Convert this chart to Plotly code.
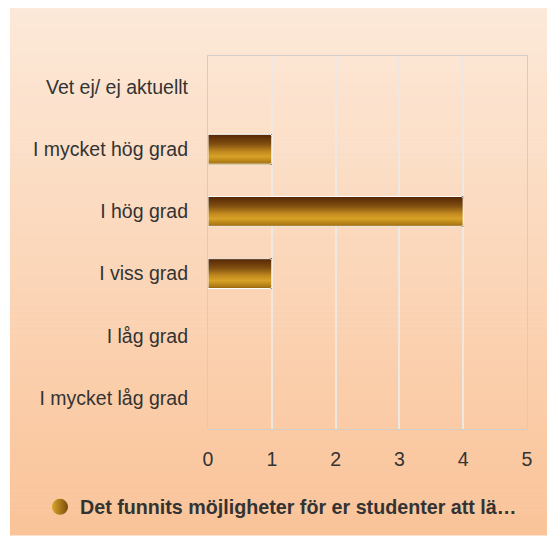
import plotly.graph_objects as go

# ---- data ----
categories = ["I mycket låg grad", "I låg grad", "I viss grad", "I hög grad",
              "I mycket hög grad", "Vet ej/ ej aktuellt"]
values = [0, 0, 1, 4, 1, 0]
series_name = "Det funnits möjligheter för er studenter att lä…"
x_ticks = [0, 1, 2, 3, 4, 5]

W, H = 547, 545
L = 208
T = 56
R = W - 527
B = H - 429
pw, ph = W - L - R, H - T - B

def px2x(p):
    return (p - L) / pw

def px2y(p):
    return (H - B - p) / ph

fig = go.Figure()

# gradient stops for bars from bottom (0) to top (1)
stops = [(0.0, (138, 90, 12)), (0.08, (172, 120, 20)), (0.28, (216, 162, 38)),
         (0.45, (192, 136, 30)), (0.7, (128, 78, 16)), (1.0, (86, 40, 6))]

def col(t):
    for (a, ca), (b, cb) in zip(stops[:-1], stops[1:]):
        if a <= t <= b:
            f = (t - a) / (b - a)
            c = [round(ca[i] + (cb[i] - ca[i]) * f) for i in range(3)]
            return "rgb(%d,%d,%d)" % tuple(c)
    return "rgb(%d,%d,%d)" % stops[-1][1]

bw = 0.48
N = 30
for k in range(N):
    t = (k + 0.5) / N
    fig.add_trace(go.Bar(
        x=values, y=categories, orientation="h",
        width=bw / N * 1.3, offset=-bw / 2 + k * bw / N,
        marker=dict(color=col(t), line=dict(width=0)),
        showlegend=False, hoverinfo="skip"))

# white outline (only on non-empty bars)
fig.add_trace(go.Bar(
    x=values, y=categories, orientation="h", width=bw,
    marker=dict(color="rgba(0,0,0,0)",
                line=dict(color="white", width=[1 if v > 0 else 0 for v in values]),
                cornerradius=2),
    showlegend=False, hoverinfo="skip"))

# legend entry
fig.add_trace(go.Scatter(
    x=[None], y=[None], mode="markers", name=series_name,
    marker=dict(symbol="circle", size=16, color="#d9a62a",
                gradient=dict(type="horizontal", color="#7a4a0c"))))

# background gradient (chart area), drawn as thin horizontal strips
top_c, bot_c = (252, 233, 217), (250, 195, 152)
NS = 106
ytop, ybot = 8, 535
shapes = []
for i in range(NS):
    a = ytop + (ybot - ytop) * i / NS
    b = ytop + (ybot - ytop) * (i + 1) / NS
    f = (i + 0.5) / NS
    c = tuple(round(top_c[j] + (bot_c[j] - top_c[j]) * f) for j in range(3))
    shapes.append(dict(type="rect", xref="paper", yref="paper", layer="below",
                       x0=px2x(10), x1=px2x(560), y0=px2y(b + 0.6), y1=px2y(a),
                       fillcolor="rgb(%d,%d,%d)" % c, line=dict(width=0)))

fig.update_layout(
    width=W, height=H, margin=dict(l=L, r=R, t=T, b=B, pad=0),
    autosize=False,
    paper_bgcolor="white", plot_bgcolor="rgba(0,0,0,0)",
    barmode="overlay", shapes=shapes,
    font=dict(family="Liberation Sans, Arial, sans-serif", color="#333333"),
    xaxis=dict(range=[0, 5], tickvals=x_ticks, showgrid=True, gridcolor="#efe8e2",
               gridwidth=1.5, zeroline=False, showline=True, linecolor="#d2cdc9",
               linewidth=1.2, mirror=True, tickfont=dict(size=19.5, color="#333333"),
               ticks="", ticklabelstandoff=12, fixedrange=True),
    yaxis=dict(categoryorder="array", categoryarray=categories, showgrid=False,
               zeroline=False, showline=True, linecolor="#d2cdc9", linewidth=1.2,
               mirror=True, tickfont=dict(size=19.5, color="#333333"), ticks="",
               ticklabelstandoff=15, range=[-0.5, 5.5], fixedrange=True),
    legend=dict(orientation="h", x=px2x(281), xanchor="center", y=px2y(507),
                yanchor="middle", font=dict(size=19.7, color="#333333",
                family="Liberation Sans, Arial, sans-serif", weight="bold"),
                bgcolor="rgba(0,0,0,0)"),
)

fig.write_html(
    "out.html",
    config={"displayModeBar": False, "responsive": False},
    post_script="document.documentElement.style.margin='0';"
                "document.body.style.margin='0';"
                "document.body.style.padding='0';"
                "document.documentElement.style.overflow='hidden';"
                "document.body.style.overflow='hidden';"
                "document.documentElement.style.background='rgb(250,210,180)';")
